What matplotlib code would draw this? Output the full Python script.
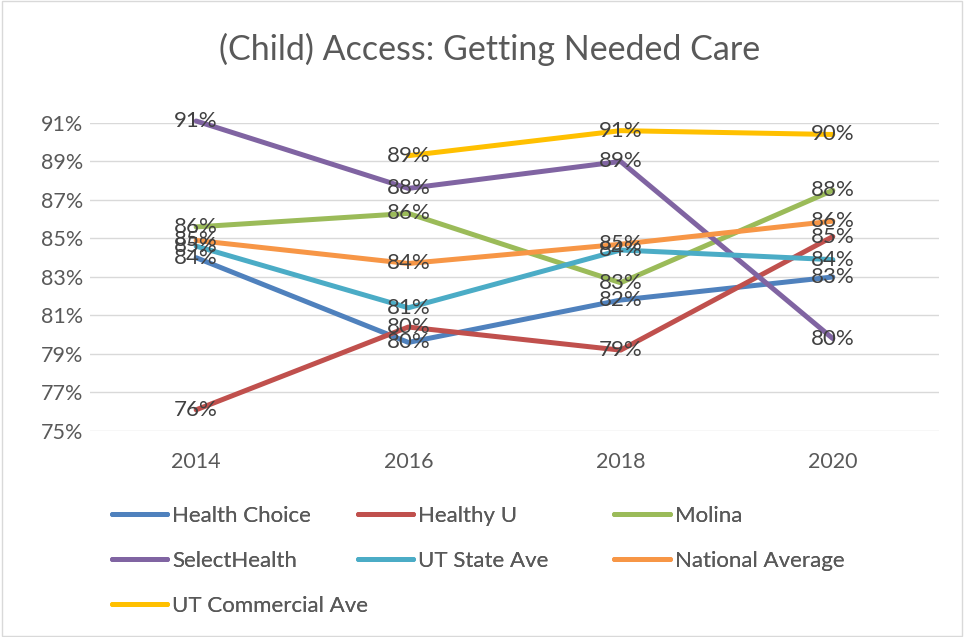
import matplotlib.pyplot as plt
from matplotlib.patches import Rectangle

years = ["2014", "2016", "2018", "2020"]

health_choice = [84.0, 79.6, 81.8, 83.0]
healthy_u = [76.1, 80.4, 79.2, 85.1]
molina = [85.6, 86.3, 82.7, 87.5]
select_health = [91.1, 87.6, 89.0, 79.8]
ut_state_ave = [84.6, 81.4, 84.4, 83.9]
national_average = [84.9, 83.7, 84.7, 85.9]
ut_commercial_ave = [None, 89.3, 90.6, 90.4]

series = [
    ("Health Choice", health_choice, "#4F81BD"),
    ("Healthy U", healthy_u, "#C0504D"),
    ("Molina", molina, "#9BBB59"),
    ("SelectHealth", select_health, "#8064A2"),
    ("UT State Ave", ut_state_ave, "#4BACC6"),
    ("National Average", national_average, "#F79646"),
    ("UT Commercial Ave", ut_commercial_ave, "#FFC000"),
]

plt.rcParams['font.family'] = ['Lato', 'DejaVu Sans']
text_col = "#595959"

fig = plt.figure(figsize=(9.64, 6.37), dpi=100)
fig.patches.append(Rectangle((0.002, 0.002), 0.996, 0.996, transform=fig.transFigure,
                             fill=False, edgecolor="#D9D9D9", linewidth=1))
ax = fig.add_axes([0.0934, 0.3234, 0.8806, 0.4836])

handles = {}
for name, vals, col in series:
    xs = [i for i, v in enumerate(vals) if v is not None]
    ys = [v for v in vals if v is not None]
    ln, = ax.plot(xs, ys, color=col, linewidth=3.6, solid_capstyle='round', label=name, clip_on=False)
    handles[name] = ln
    for x, y in zip(xs, ys):
        ax.text(x, y, f"{y:.0f}%", ha='center', va='center', fontsize=16, color="#404040", zorder=5)

ax.set_xlim(-0.5, 3.5)
ax.set_ylim(75, 91)
ax.set_yticks(range(75, 92, 2))
ax.set_yticklabels([f"{v}%" for v in range(75, 92, 2)])
ax.set_xticks(range(len(years)))
ax.set_xticklabels(years)
ax.grid(axis='y', color="#D9D9D9", linewidth=1)
ax.set_axisbelow(True)
for s in ax.spines.values():
    s.set_visible(False)
ax.tick_params(length=0, labelsize=15.5, colors=text_col)
ax.tick_params(axis='y', pad=5)
ax.tick_params(axis='x', pad=15)

fig.text(0.508, 0.923, "(Child) Access: Getting Needed Care", ha='center', va='center',
         fontsize=24.5, color=text_col)

columns = [
    (["Health Choice", "SelectHealth", "UT Commercial Ave"], 0.116),
    (["Healthy U", "UT State Ave"], 0.371),
    (["Molina", "National Average"], 0.637),
]
for names, xpos in columns:
    leg = fig.legend([handles[n] for n in names], names, loc='upper left',
                     bbox_to_anchor=(xpos, 0.206), bbox_transform=fig.transFigure,
                     frameon=False, fontsize=16, handlelength=2.5, handletextpad=0.22,
                     labelspacing=1.12, borderaxespad=0, borderpad=0)
    for t in leg.get_texts():
        t.set_color(text_col)
    fig.add_artist(leg)

fig.savefig("out.png", dpi=100)
